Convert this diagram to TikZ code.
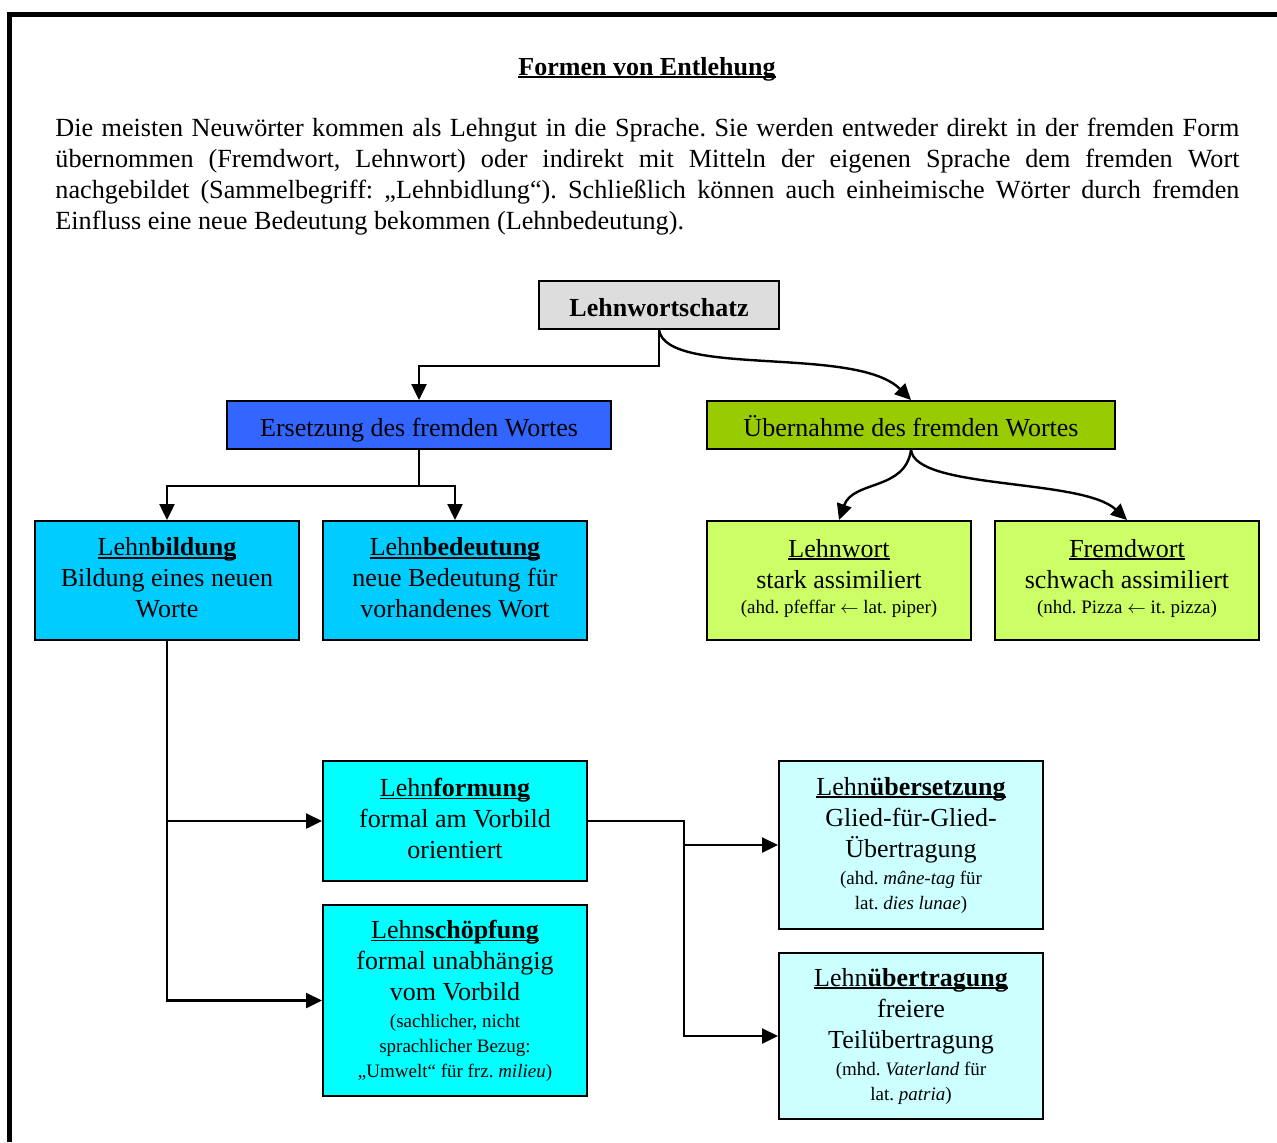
\documentclass[tikz,border=0pt]{standalone}
\usepackage{fontspec}
\setmainfont{Liberation Serif}
\usetikzlibrary{arrows.meta}

\definecolor{rootgray}{HTML}{DDDDDD}
\definecolor{ersblue}{HTML}{3366FF}
\definecolor{uebgreen}{HTML}{99CC00}
\definecolor{skyblue}{HTML}{00CCFF}
\definecolor{limegreen}{HTML}{CCFF66}
\definecolor{brightcyan}{HTML}{00FFFF}
\definecolor{palecyan}{HTML}{CCFFFF}

% underline that runs through descenders, as in word processors
\newcommand\undl[1]{\setbox0=\hbox{#1}\rlap{\rule[-1.6pt]{\wd0}{0.9pt}}\box0}
\newcommand\smallf{\fontsize{9.5}{12}\selectfont}

\begin{document}
\frenchspacing
\begin{tikzpicture}[x=0.5pt,y=-0.5pt,
  box/.style={draw=black, line width=1pt, inner sep=0pt, align=center,
              font=\fontsize{13}{15.5}\selectfont},
  oneline/.style={text height=11pt, text depth=0pt},
  conn/.style={line width=1.2pt, -{Triangle[length=8pt,width=7.5pt]}},
  wire/.style={line width=1.2pt}]
\useasboundingbox (0,0) rectangle (1277,1142);
\fill[white] (0,0) rectangle (1277,1142);

% page frame (top and left edges)
\draw[line width=2.5pt] (9,1142) -- (9,14) -- (1277,14);

% heading and introduction
\node[anchor=base, font=\fontsize{13}{15.5}\selectfont\bfseries] (title) at (647,75)
  {\undl{Formen von Entlehung}};
\node[anchor=north west, inner sep=0pt, text width=592pt, align=justify,
      font=\fontsize{13.1}{15.5}\selectfont] (intro) at (55,114.3)
  {\strut Die meisten Neuwörter kommen als Lehngut in die Sprache. Sie werden entweder direkt in der fremden Form\linebreak
   übernommen (Fremdwort, Lehnwort) oder indirekt mit Mitteln der eigenen Sprache dem fremden Wort\linebreak
   nachgebildet (Sammelbegriff: „Lehnbidlung“). Schließlich können auch einheimische Wörter durch fremden\linebreak
   Einfluss eine neue Bedeutung bekommen (Lehnbedeutung).};

% tree nodes
\node[box, oneline, fill=rootgray, minimum width=120pt, minimum height=24pt] (lws) at (659,305)
  {\textbf{Lehnwortschatz}};
\node[box, oneline, fill=ersblue, minimum width=192pt, minimum height=24pt] (ers) at (419,425)
  {Ersetzung des fremden Wortes};
\node[box, oneline, fill=uebgreen, minimum width=204pt, minimum height=24pt] (ueb) at (911,425)
  {Übernahme des fremden Wortes};

\node[box, text depth=2.7pt, fill=skyblue, minimum width=132pt, minimum height=59.5pt] (lbi) at (167,580.5)
  {\undl{Lehn\textbf{bildung}}\\ Bildung eines neuen\\ Worte};
\node[box, text depth=2.7pt, fill=skyblue, minimum width=132pt, minimum height=59.5pt] (lbe) at (455,580.5)
  {\undl{Lehn\textbf{bedeutung}}\\ neue Bedeutung für\\ vorhandenes Wort};
\node[box, text depth=4.5pt, fill=limegreen, minimum width=132pt, minimum height=59.5pt] (lwo) at (839,580.5)
  {\undl{Lehnwort}\\ stark assimiliert\\[-3pt] {\smallf (ahd. pfeffar $\leftarrow$ lat. piper)}};
\node[box, text depth=4.5pt, fill=limegreen, minimum width=132pt, minimum height=59.5pt] (fwo) at (1127,580.5)
  {\undl{Fremdwort}\\ schwach assimiliert\\[-3pt] {\smallf (nhd. Pizza $\leftarrow$ it. pizza)}};

\node[box, text depth=3pt, fill=brightcyan, minimum width=132pt, minimum height=60pt] (lfo) at (455,821)
  {\undl{Lehn\textbf{formung}}\\ formal am Vorbild\\ orientiert};
\node[box, fill=brightcyan, minimum width=132pt, minimum height=95.5pt] (lsc) at (455,1000.5)
  {\undl{Lehn\textbf{schöpfung}}\\ formal unabhängig\\ vom Vorbild\\[-2pt]
   {\smallf (sachlicher, nicht}\\[-3pt] {\smallf sprachlicher Bezug:}\\[-3pt]
   {\smallf „Umwelt“ für frz. \textit{milieu})}};
\node[box, fill=palecyan, minimum width=132pt, minimum height=84pt] (lus) at (911,845)
  {\undl{Lehn\textbf{übersetzung}}\\ Glied-für-Glied-\\ Übertragung\\[-2pt]
   {\smallf (ahd. \textit{mâne-tag} für}\\[-3pt] {\smallf lat. \textit{dies lunae})}};
\node[box, fill=palecyan, minimum width=132pt, minimum height=83pt] (lut) at (911,1036)
  {\undl{Lehn\textbf{übertragung}}\\ freiere\\ Teilübertragung\\[-2pt]
   {\smallf (mhd. \textit{Vaterland} für}\\[-3pt] {\smallf lat. \textit{patria})}};

% connectors
\draw[conn] (lws.south) -- ++(0,36) -| (ers.north);
\draw[conn] (lws.south) .. controls +(8,48) and +(-55,-55) .. (ueb.north);

\draw[wire] (ers.south) -- ++(0,36) coordinate (ej);
\draw[conn] (ej) -| (lbi.north);
\draw[conn] (ej) -| (lbe.north);

\draw[conn] (ueb.south) .. controls +(-6,41) and +(14,-40) .. (lwo.north);
\draw[conn] (ueb.south) .. controls +(5,40) and +(-45,-42) .. (fwo.north);

\draw[conn] (lbi.south) |- (lsc.west);
\draw[conn] (lbi.south |- lfo.west) -- (lfo.west);

\draw[conn] (lfo.east) -- ++(96,0) coordinate (fj) |- (lut.west);
\draw[conn] (fj |- lus.west) -- (lus.west);
\end{tikzpicture}
\end{document}
